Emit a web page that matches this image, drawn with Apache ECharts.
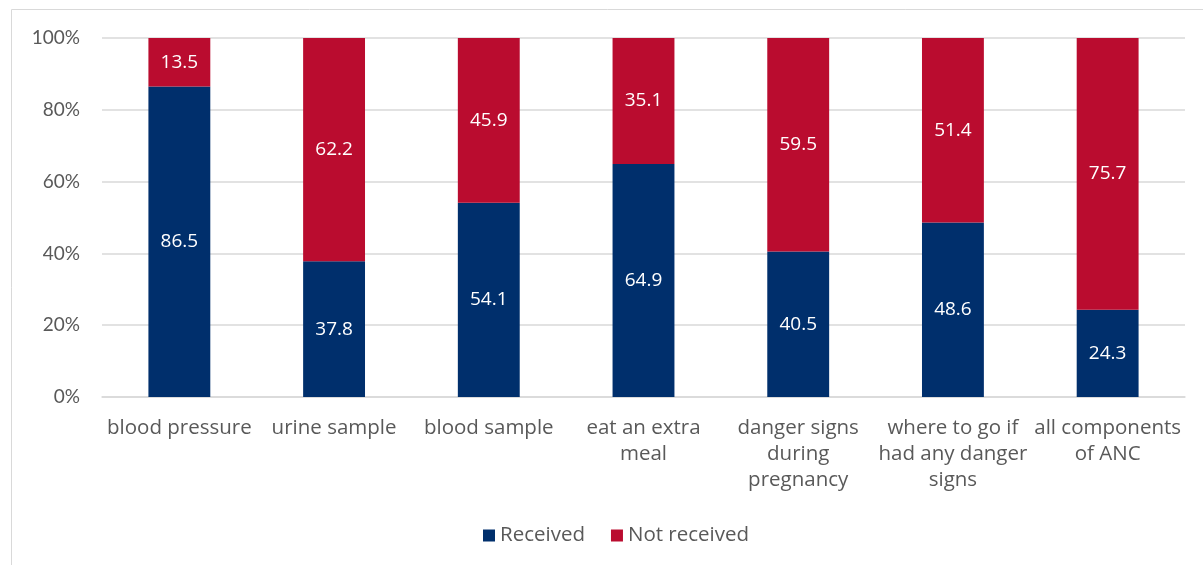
<!DOCTYPE html>
<html>
<head>
<meta charset="utf-8">
<script src="https://cdn.jsdelivr.net/npm/echarts@6/dist/echarts.min.js"></script>
<style>
  html, body { margin: 0; padding: 0; background: #fff; }
  #chart { width: 1203px; height: 565px; }
</style>
</head>
<body>
<div id="chart"></div>
<script>
// ANC components: share of women who received each component (%)
const categories = [
  'blood pressure',
  'urine sample',
  'blood sample',
  'eat an extra\nmeal',
  'danger signs\nduring\npregnancy',
  'where to go if\nhad any danger\nsigns',
  'all components\nof ANC'
];
const received = [86.5, 37.8, 54.1, 64.9, 40.5, 48.6, 24.3];
const notReceived = [13.5, 62.2, 45.9, 35.1, 59.5, 51.4, 75.7];
const yTicks = [0, 20, 40, 60, 80, 100];

const FONT = '"Open Sans", Lato, sans-serif';
const NUM_FONT = 'Lato, "Open Sans", sans-serif';
const BLUE = '#002f6c';
const RED = '#ba0c2f';
const TEXT = '#595959';

const chart = echarts.init(document.getElementById('chart'));

const labelStyle = {
  show: true,
  position: 'inside',
  color: '#fff',
  fontFamily: FONT,
  fontSize: 19,
  formatter: p => p.value.toFixed(1)
};

chart.setOption({
  animation: false,
  graphic: [{
    type: 'rect',
    shape: { x: 11.5, y: 9.5, width: 1400, height: 800 },
    style: { fill: 'none', stroke: '#d9d9d9', lineWidth: 1 },
    silent: true
  }],
  legend: {
    bottom: 14,
    left: 478,
    itemWidth: 12,
    itemHeight: 12,
    itemGap: 26,
    icon: 'rect',
    textStyle: { color: TEXT, fontFamily: FONT, fontSize: 20.5 },
    data: ['Received', 'Not received']
  },
  grid: { left: 102, right: 18, top: 38, bottom: 168, containLabel: false },
  xAxis: {
    type: 'category',
    data: categories,
    axisLine: { show: true, lineStyle: { color: '#d9d9d9', width: 1.5 } },
    axisTick: { show: false },
    axisLabel: {
      color: TEXT,
      fontFamily: FONT,
      fontSize: 20.5,
      lineHeight: 26,
      margin: 18,
      interval: 0
    }
  },
  yAxis: {
    type: 'value',
    min: yTicks[0],
    max: yTicks[yTicks.length - 1],
    interval: 20,
    axisLine: { show: false },
    axisTick: { show: false },
    splitLine: { lineStyle: { color: '#d9d9d9', width: 1.5 } },
    axisLabel: {
      color: TEXT,
      fontFamily: NUM_FONT,
      fontSize: 19,
      margin: 22,
      formatter: v => v + '%'
    }
  },
  series: [
    {
      name: 'Received',
      type: 'bar',
      stack: 'total',
      barWidth: '40%',
      itemStyle: { color: BLUE },
      label: labelStyle,
      data: received
    },
    {
      name: 'Not received',
      type: 'bar',
      stack: 'total',
      barWidth: '40%',
      itemStyle: { color: RED },
      label: labelStyle,
      data: notReceived
    }
  ]
});
</script>
</body>
</html>
